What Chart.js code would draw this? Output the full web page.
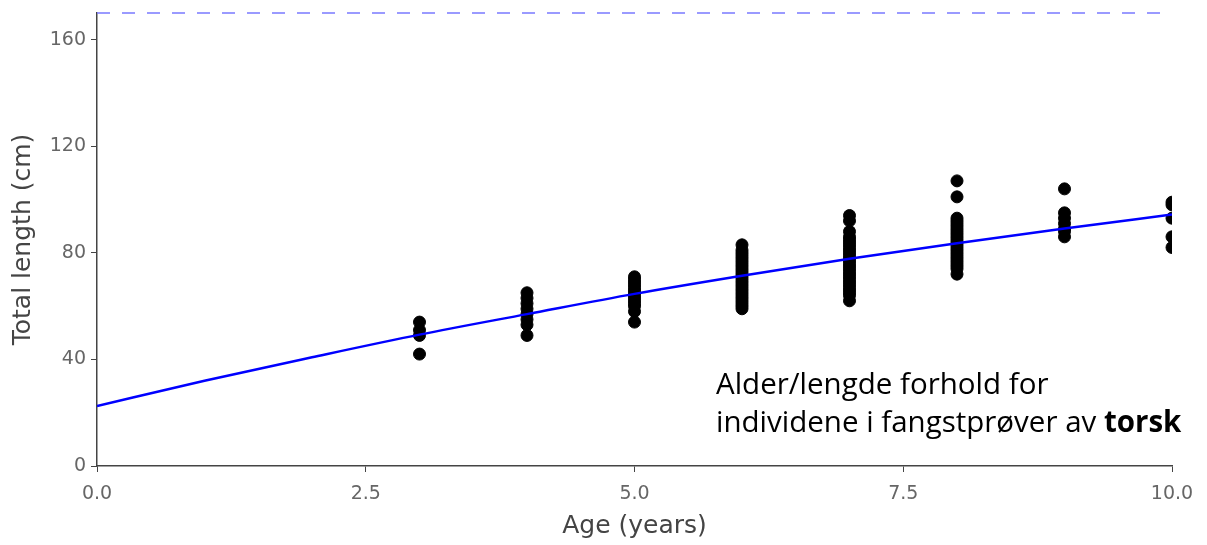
<!DOCTYPE html>
<html>
<head>
<meta charset="utf-8">
<script src="https://cdn.jsdelivr.net/npm/chart.js@4/dist/chart.umd.min.js"></script>
<style>
  html, body { margin: 0; padding: 0; background: #fff; }
  #wrap { width: 1207px; height: 545px; }
</style>
</head>
<body>
<div id="wrap"><canvas id="chart"></canvas></div>
<script>
// sampled ages and measured lengths (cm), one list per age
var ages = [3, 4, 5, 6, 7, 8, 9, 10];
var lengths = [
  [54, 51, 49, 42],
  [65, 63, 61, 59, 57, 55, 53, 49],
  [71, 70, 69, 68, 67, 66, 65, 64, 63, 62, 61, 60, 58, 54],
  [83, 81, 80, 79, 78, 77, 76, 75, 74, 73, 72, 71, 70, 69, 68, 67, 66, 65, 64, 63, 62, 61, 60, 59],
  [94, 92, 88, 86, 85, 84, 83, 82, 81, 80, 79, 78, 77, 76, 75, 74, 73, 72, 71, 70, 69, 68, 67, 66, 65, 64, 62],
  [107, 101, 93, 92, 91, 90, 89, 88, 87, 86, 85, 84, 83, 82, 81, 80, 79, 78, 77, 76, 75, 74, 72],
  [104, 95, 93, 91, 89, 88, 86],
  [99, 98, 93, 86, 82]
];

// growth curve
var curveAges = [0, 1, 2, 3, 4, 5, 6, 7, 8, 9, 10];
var curveLengths = [22.5, 32, 40.8, 49.3, 57, 64.6, 71.4, 77.8, 83.6, 89.1, 94.4];

// asymptotic length
var maxAges = [0, 10];
var maxLength = 170;

var xTicks = [0, 2.5, 5, 7.5, 10];
var yTicks = [0, 40, 80, 120, 160];

var points = [];
ages.forEach(function(a, i) {
  lengths[i].forEach(function(l) { points.push({x: a, y: l}); });
});

var curve = curveAges.map(function(a, i) { return {x: a, y: curveLengths[i]}; });
var maxLine = maxAges.map(function(a) { return {x: a, y: maxLength}; });

var noteText = {
  id: 'noteText',
  afterDraw: function(chart) {
    var ctx = chart.ctx;
    ctx.save();
    ctx.fillStyle = '#000';
    ctx.textBaseline = 'alphabetic';
    ctx.font = '29.5px "Open Sans"';
    ctx.fillText('Alder/lengde forhold for', 716, 394);
    var first = 'individene i fangstprøver av ';
    ctx.fillText(first, 716, 432);
    var w = ctx.measureText(first).width;
    ctx.font = 'bold 29.5px "Open Sans"';
    ctx.fillText('torsk', 716 + w, 432);
    ctx.restore();
  }
};

var axisColor = '#444';
var tickColor = '#666';

new Chart(document.getElementById('chart'), {
  type: 'scatter',
  data: {
    datasets: [
      {
        label: 'Fish',
        data: points,
        backgroundColor: '#000',
        borderColor: '#000',
        pointRadius: 6,
        pointHoverRadius: 6,
        clip: 0,
        order: 2
      },
      {
        label: 'Growth',
        type: 'line',
        data: curve,
        borderColor: '#0000ff',
        borderWidth: 2.5,
        pointRadius: 0,
        fill: false,
        cubicInterpolationMode: 'monotone',
        order: 1
      },
      {
        label: 'Max',
        type: 'line',
        data: maxLine,
        borderColor: '#7a7aff',
        borderWidth: 1.5,
        borderDash: [13, 12],
        pointRadius: 0,
        fill: false,
        clip: false,
        order: 3
      }
    ]
  },
  options: {
    responsive: true,
    maintainAspectRatio: false,
    animation: false,
    layout: { padding: { top: 13, right: 35, left: 0, bottom: 0 } },
    plugins: {
      legend: { display: false },
      tooltip: { enabled: false }
    },
    scales: {
      x: {
        type: 'linear',
        min: 0,
        max: 10,
        afterBuildTicks: function(s) { s.ticks = xTicks.map(function(v) { return {value: v}; }); },
        afterFit: function(s) { s.height = 79; },
        border: { color: axisColor, width: 1.5 },
        grid: { drawOnChartArea: false, drawTicks: true, tickLength: 6, color: axisColor },
        ticks: {
          color: tickColor,
          font: { family: 'DejaVu Sans', size: 19 },
          padding: 11,
          maxRotation: 0,
          callback: function(v) { return Number(v).toFixed(1); }
        },
        title: {
          display: true,
          text: 'Age (years)',
          color: axisColor,
          font: { family: 'DejaVu Sans', size: 25 },
          padding: { top: 0 }
        }
      },
      y: {
        type: 'linear',
        min: 0,
        max: 170,
        afterBuildTicks: function(s) { s.ticks = yTicks.map(function(v) { return {value: v}; }); },
        afterFit: function(s) { s.width = 97; s.paddingTop = 0; s.paddingBottom = 0; },
        border: { color: axisColor, width: 1.5 },
        grid: { drawOnChartArea: false, drawTicks: true, tickLength: 6, color: axisColor },
        ticks: {
          color: tickColor,
          font: { family: 'DejaVu Sans', size: 19 },
          padding: 5
        },
        title: {
          display: true,
          text: 'Total length (cm)',
          color: axisColor,
          font: { family: 'DejaVu Sans', size: 25 },
          padding: { top: 8, bottom: 4 }
        }
      }
    }
  },
  plugins: [noteText]
});
</script>
</body>
</html>
